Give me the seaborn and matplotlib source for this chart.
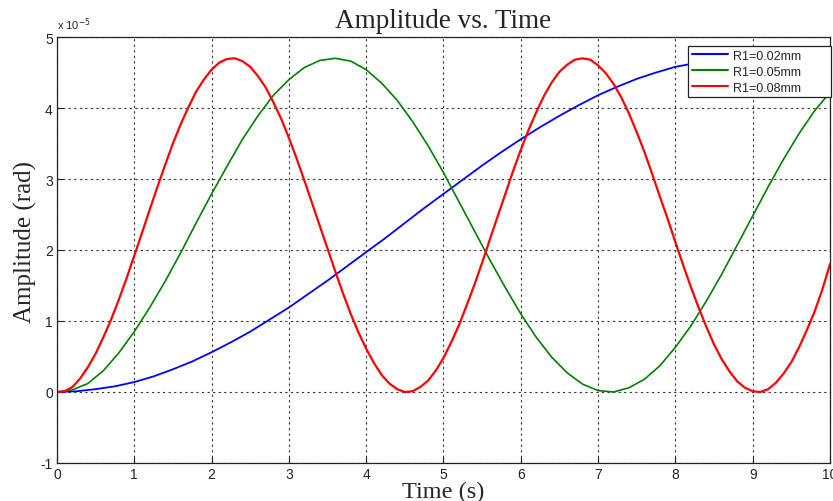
import numpy as np
import pandas as pd
import matplotlib
matplotlib.use("Agg")
import matplotlib.pyplot as plt
import seaborn as sns
from matplotlib.lines import Line2D

# Amplitudes in units of 1e-5 rad
# R1 = 0.02 mm, sampled every 0.25 s
time_r002 = [0.0, 0.25, 0.5, 0.75, 1.0, 1.25, 1.5, 1.75, 2.0, 2.25, 2.5, 2.75, 3.0, 3.25,
             3.5, 3.75, 4.0, 4.25, 4.5, 4.75, 5.0, 5.25, 5.5, 5.75, 6.0, 6.25, 6.5, 6.75,
             7.0, 7.25, 7.5, 7.75, 8.0, 8.25, 8.5, 8.75, 9.0, 9.25, 9.5, 9.75, 10.0]
amp_r002 = [0.00, 0.01, 0.04, 0.08, 0.14, 0.22, 0.32, 0.43, 0.56, 0.70, 0.85, 1.02, 1.19, 1.38,
            1.57, 1.77, 1.97, 2.17, 2.38, 2.59, 2.79, 2.99, 3.19, 3.38, 3.56, 3.73, 3.89, 4.04,
            4.18, 4.30, 4.41, 4.50, 4.58, 4.63, 4.67, 4.70, 4.70, 4.68, 4.65, 4.60, 4.55]

# R1 = 0.05 mm, sampled every 0.2 s
time_r005 = [0.0, 0.2, 0.4, 0.6, 0.8, 1.0, 1.2, 1.4, 1.6, 1.8, 2.0, 2.2, 2.4, 2.6, 2.8, 3.0,
             3.2, 3.4, 3.6, 3.8, 4.0, 4.2, 4.4, 4.6, 4.8, 5.0, 5.2, 5.4, 5.6, 5.8, 6.0, 6.2,
             6.4, 6.6, 6.8, 7.0, 7.2, 7.4, 7.6, 7.8, 8.0, 8.2, 8.4, 8.6, 8.8, 9.0, 9.2, 9.4,
             9.6, 9.8, 10.0]
amp_r005 = [0.00, 0.03, 0.12, 0.30, 0.55, 0.85, 1.19, 1.56, 1.96, 2.38, 2.79, 3.18, 3.56, 3.89,
            4.18, 4.40, 4.57, 4.67, 4.70, 4.66, 4.54, 4.35, 4.11, 3.81, 3.47, 3.09, 2.68, 2.27,
            1.86, 1.47, 1.10, 0.77, 0.49, 0.27, 0.11, 0.02, 0.00, 0.06, 0.18, 0.37, 0.63, 0.93,
            1.28, 1.66, 2.07, 2.48, 2.89, 3.28, 3.64, 3.96, 4.22]

# R1 = 0.08 mm, sampled every 0.1 s
time_r008 = [round(0.1 * k, 1) for k in range(101)]
amp_r008 = [0.00, 0.01, 0.07, 0.19, 0.35, 0.54, 0.77, 1.02, 1.30, 1.60,
            1.92, 2.24, 2.57, 2.89, 3.20, 3.50, 3.77, 4.01, 4.23, 4.40,
            4.54, 4.64, 4.69, 4.70, 4.66, 4.58, 4.45, 4.29, 4.08, 3.85,
            3.58, 3.29, 2.98, 2.66, 2.34, 2.02, 1.70, 1.39, 1.10, 0.84,
            0.61, 0.41, 0.24, 0.12, 0.04, 0.00, 0.01, 0.07, 0.16, 0.30,
            0.48, 0.70, 0.94, 1.22, 1.51, 1.82, 2.15, 2.47, 2.79, 3.11,
            3.41, 3.69, 3.94, 4.17, 4.36, 4.51, 4.61, 4.68, 4.70, 4.68,
            4.60, 4.49, 4.34, 4.15, 3.92, 3.66, 3.38, 3.07, 2.75, 2.44,
            2.11, 1.79, 1.48, 1.19, 0.92, 0.67, 0.46, 0.29, 0.15, 0.06,
            0.01, 0.00, 0.04, 0.13, 0.26, 0.42, 0.63, 0.87, 1.13, 1.44,
            1.80]

series_labels = ["R1=0.02mm", "R1=0.05mm", "R1=0.08mm"]
series_colors = ["#0000ff", "#008000", "#ff0000"]
series_widths = [1.3, 1.2, 1.6]

x_ticks = list(range(0, 11))
y_ticks = [-1, 0, 1, 2, 3, 4, 5]

df = pd.concat([
    pd.DataFrame({"Time": time_r002, "Amplitude": amp_r002, "Series": series_labels[0]}),
    pd.DataFrame({"Time": time_r005, "Amplitude": amp_r005, "Series": series_labels[1]}),
    pd.DataFrame({"Time": time_r008, "Amplitude": amp_r008, "Series": series_labels[2]}),
], ignore_index=True)

sns.set_style("ticks")
plt.rcParams["font.family"] = ["Liberation Sans", "DejaVu Sans"]
plt.rcParams["axes.unicode_minus"] = False

fig = plt.figure(figsize=(8.33, 5.02), dpi=100)
ax = fig.add_axes([0.0684, 0.0757, 0.928, 0.8486])

sns.lineplot(data=df, x="Time", y="Amplitude", hue="Series", hue_order=series_labels,
             palette=series_colors, ax=ax, legend=False, estimator=None, sort=False)
for line, lw in zip(ax.get_lines(), series_widths):
    line.set_linewidth(lw)

ax.set_xlim(0, 10)
ax.set_ylim(-1, 5)
ax.set_xticks(x_ticks)
ax.set_yticks(y_ticks)
ax.tick_params(direction="in", length=4, labelsize=10, colors="#222222", pad=3)
ax.grid(True, linestyle=(0, (2, 3)), color="#333333", linewidth=0.8)
for s in ax.spines.values():
    s.set_visible(True)
    s.set_color("#222222")
    s.set_linewidth(0.9)

serif = ["Liberation Serif", "DejaVu Serif"]
ax.set_title("Amplitude vs. Time", family=serif, fontsize=19.5, pad=7)
ax.set_xlabel("Time (s)", family=serif, fontsize=17.5, labelpad=-0.5)
ax.set_ylabel("Amplitude (rad)", family=serif, fontsize=18)
ax.yaxis.set_label_coords(-0.026, 0.52)
ax.text(0.0, 1.012, "x 10$^{-5}$", transform=ax.transAxes, fontsize=8, ha="left", va="bottom")

handles = [Line2D([], [], color=c, lw=1.5) for c in series_colors]
leg = ax.legend(handles, series_labels, loc="upper left", mode="expand", fontsize=9,
                frameon=True, fancybox=False, framealpha=1, edgecolor="#222222",
                borderpad=0.3, borderaxespad=0, handlelength=2.9, handletextpad=0.4,
                labelspacing=0.32, bbox_to_anchor=(0.816, 0.866, 0.185, 0.113))
leg.get_frame().set_linewidth(0.9)

fig.savefig("out.png", dpi=100)
